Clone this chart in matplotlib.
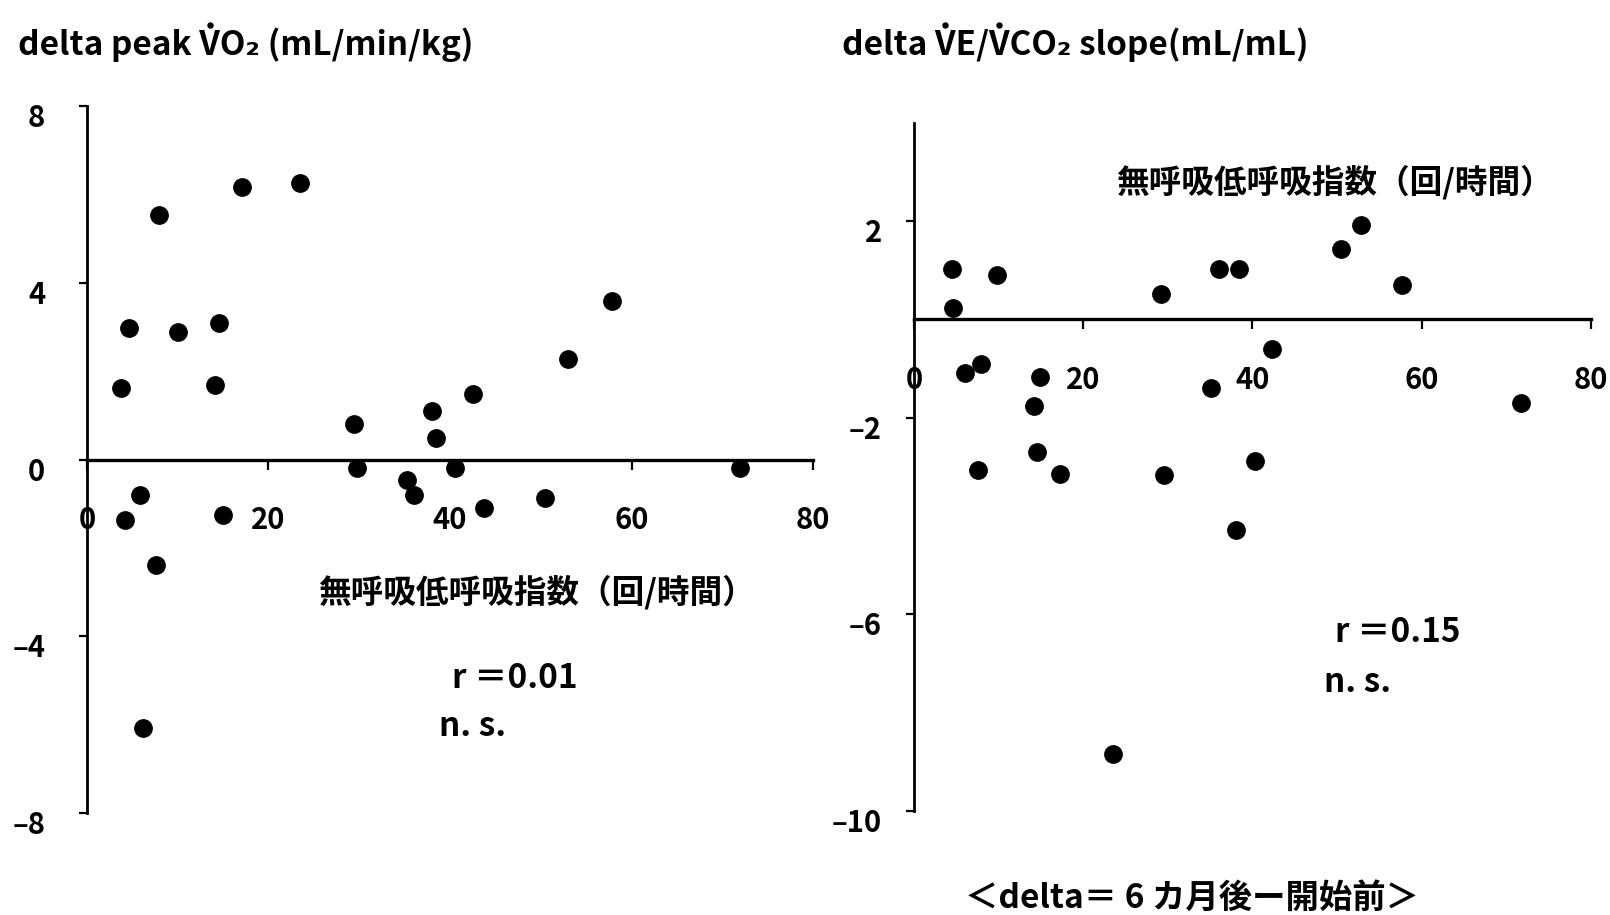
import matplotlib.pyplot as plt
from matplotlib.lines import Line2D
from matplotlib.transforms import ScaledTranslation

plt.rcParams['font.family'] = ['Noto Sans CJK JP', 'DejaVu Sans']
plt.rcParams['font.weight'] = 'bold'

# apnea-hypopnea index (events/hour) vs change in peak VO2
ahi_vo2 = [3.7, 4.6, 7.9, 10.0, 14.5, 14.1, 17.1, 23.5, 29.4, 38.0, 38.5, 42.5, 53.0, 57.8,
           29.7, 35.3, 36.0, 40.6, 43.7, 50.5, 72.0, 5.8, 4.2, 15.0, 7.6, 6.2]
d_vo2 = [1.61, 2.98, 5.54, 2.88, 3.09, 1.68, 6.18, 6.26, 0.80, 1.09, 0.48, 1.49, 2.28, 3.59,
         -0.19, -0.47, -0.80, -0.19, -1.09, -0.88, -0.19, -0.80, -1.37, -1.26, -2.38, -6.08]

# apnea-hypopnea index vs change in VE/VCO2 slope
ahi_slope = [4.5, 4.6, 9.8, 29.2, 36.0, 38.4, 50.4, 52.8, 57.7, 42.3, 7.9, 6.0, 14.9, 35.1,
             71.7, 14.2, 14.5, 7.6, 17.2, 29.6, 40.3, 38.0, 23.5]
d_slope = [1.02, 0.24, 0.90, 0.52, 1.02, 1.02, 1.43, 1.92, 0.71, -0.61, -0.90, -1.08, -1.18, -1.40,
           -1.70, -1.76, -2.70, -3.07, -3.15, -3.16, -2.87, -4.28, -8.85]

xticks = [0, 20, 40, 60, 80]
yticks_vo2 = [8, 4, 0, -4, -8]
yticks_slope = [2, -2, -6, -10]

W, H = 1610, 915
fig = plt.figure(figsize=(W / 100, H / 100), dpi=100)
ax1 = fig.add_axes([0.054, 0.1115, 0.451, 0.7725])
ax2 = fig.add_axes([0.5677, 0.1137, 0.4205, 0.752])


def style(ax, ylim, yticks, ypad):
    ax.set_xlim(0, 80)
    ax.set_ylim(*ylim)
    for s in ['top', 'right']:
        ax.spines[s].set_visible(False)
    ax.spines['left'].set_position(('data', 0))
    ax.spines['bottom'].set_position(('data', 0))
    ax.spines['left'].set_linewidth(2)
    ax.spines['bottom'].set_linewidth(2.4)
    ax.set_xticks(xticks)
    ax.set_yticks(yticks)
    ax.set_yticklabels([str(v).replace('-', '\u2012') for v in yticks])
    ax.tick_params(axis='x', direction='out', length=7, width=1.6, pad=26, labelsize=21)
    ax.tick_params(axis='y', direction='out', length=6, width=1.6, pad=ypad, labelsize=21)
    off = ScaledTranslation(0, -9 / 100, fig.dpi_scale_trans)
    for lab in ax.get_yticklabels():
        lab.set_transform(lab.get_transform() + off)


ax1.plot(ahi_vo2, d_vo2, 'o', color='black', ms=12.5, clip_on=False)
style(ax1, (-8, 8), yticks_vo2, 24)
ax2.plot(ahi_slope, d_slope, 'o', color='black', ms=12.5, clip_on=False)
style(ax2, (-10, 4), yticks_slope, 17)


def ftext(x, y, s, size=24, va='center'):
    return fig.text(x / W, 1 - y / H, s, fontsize=size, va=va)


def dotted_title(x, y, s, dots, size=24):
    # draws s with its baseline at y (pixels from top) and a dot over each index in dots
    t = ftext(x, y, s, size, va='baseline')
    r = fig.canvas.get_renderer()
    for i in dots:
        a = ftext(x, y, s[:i + 1], size, va='baseline')
        b = ftext(x, y, s[i], size, va='baseline')
        wa = a.get_window_extent(r).width
        wb = b.get_window_extent(r).width
        a.remove()
        b.remove()
        cx = x + wa - wb / 2
        cy = y - 0.73 * size * 100 / 72 - 6
        fig.add_artist(Line2D([cx / W], [1 - cy / H], marker='o', ms=3.6,
                              color='black', transform=fig.transFigure))
    return t


dotted_title(18, 55, 'delta peak VO\u2082 (mL/min/kg)', [11])
dotted_title(842, 55, 'delta VE/VCO\u2082 slope(mL/mL)', [6, 9])

xl = '無呼吸低呼吸指数（回/時間）'
ftext(318, 592, xl, 23.5)
ftext(1116, 182, xl, 23.5)

ftext(452, 678, 'r ＝0.01')
ftext(439, 727, 'n. s.')
ftext(1335, 633, 'r ＝0.15')
ftext(1324, 683, 'n. s.')

ftext(965, 898, '＜delta＝ 6 カ月後ー開始前＞')

fig.savefig('out.png', dpi=100)
